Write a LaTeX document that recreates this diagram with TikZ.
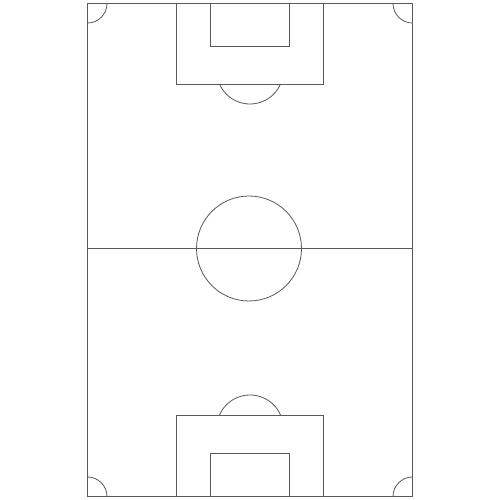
\documentclass[tikz,border=0pt]{standalone}
\begin{document}
\begin{tikzpicture}[x=1pt,y=1pt,line/.style={draw=black!65,line width=0.8pt}]
\useasboundingbox[fill=white] (0,0) rectangle (500,500);
% field
\draw[line] (87.5,3.5) rectangle (412.5,496.5);
% halfway line and center circle
\draw[line] (87.5,251.5) -- (412.5,251.5);
\draw[line] (249,251.5) circle[radius=52.5];
% top penalty area
\draw[line] (176.7,496.5) -- (176.7,416) -- (323.3,416) -- (323.3,496.5);
\draw[line] (210.3,496.5) -- (210.3,454) -- (289.7,454) -- (289.7,496.5);
\draw[line] ([shift={(203.5:33.3)}]250,429.3) arc[start angle=203.5,end angle=336.5,radius=33.3];
% bottom penalty area
\draw[line] (176.7,3.5) -- (176.7,85) -- (323.3,85) -- (323.3,3.5);
\draw[line] (210.3,3.5) -- (210.3,47) -- (289.7,47) -- (289.7,3.5);
\draw[line] ([shift={(23.5:33.3)}]250,71.7) arc[start angle=23.5,end angle=156.5,radius=33.3];
% corner arcs
\draw[line] (107,496.5) arc[start angle=0,end angle=-90,radius=19.5];
\draw[line] (393,496.5) arc[start angle=180,end angle=270,radius=19.5];
\draw[line] (107,3.5) arc[start angle=0,end angle=90,radius=19.5];
\draw[line] (393,3.5) arc[start angle=180,end angle=90,radius=19.5];
\end{tikzpicture}
\end{document}
